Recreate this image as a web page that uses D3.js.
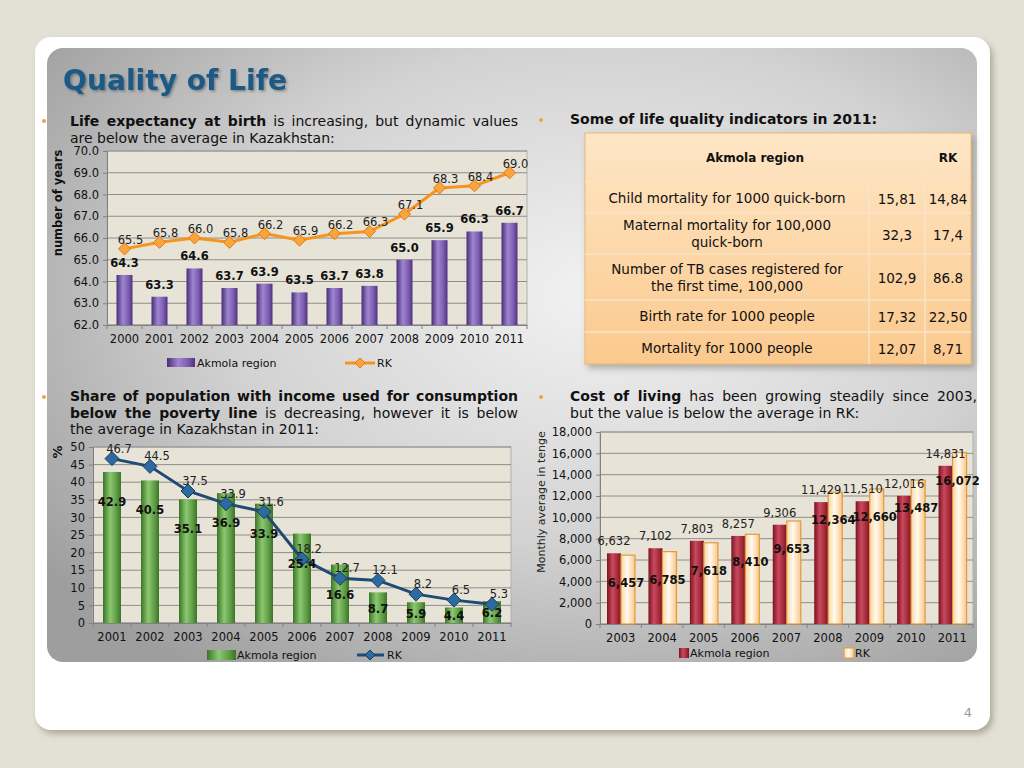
<html>
<head>
<meta charset="UTF-8">
<script src="https://d3js.org/d3.v7.min.js"></script>
<style>
  body { margin: 0; background: #e3e0d6; }
  svg text { font-family: "DejaVu Sans", Verdana, sans-serif; white-space: pre; }
</style>
</head>
<body>
<svg id="slide" width="1024" height="768"></svg>
<script>
    // ---- data ----
    var lifeYears = ["2000", "2001", "2002", "2003", "2004", "2005", "2006", "2007", "2008", "2009", "2010", "2011"];
    var lifeAkmola = [64.3, 63.3, 64.6, 63.7, 63.9, 63.5, 63.7, 63.8, 65.0, 65.9, 66.3, 66.7];
    var lifeRK = [65.5, 65.8, 66.0, 65.8, 66.2, 65.9, 66.2, 66.3, 67.1, 68.3, 68.4, 69.0];
    var lifeTicks = [62, 63, 64, 65, 66, 67, 68, 69, 70];

    var povYears = ["2001", "2002", "2003", "2004", "2005", "2006", "2007", "2008", "2009", "2010", "2011"];
    var povAkmola = [42.9, 40.5, 35.1, 36.9, 33.9, 25.4, 16.6, 8.7, 5.9, 4.4, 6.2];
    var povRK = [46.7, 44.5, 37.5, 33.9, 31.6, 18.2, 12.7, 12.1, 8.2, 6.5, 5.3];
    var povTicks = [0, 5, 10, 15, 20, 25, 30, 35, 40, 45, 50];

    var costYears = ["2003", "2004", "2005", "2006", "2007", "2008", "2009", "2010", "2011"];
    var costAkmola = [6632, 7102, 7803, 8257, 9306, 11429, 11510, 12016, 14831];
    var costRK = [6457, 6785, 7618, 8410, 9653, 12364, 12660, 13487, 16072];
    var costTicks = [0, 2000, 4000, 6000, 8000, 10000, 12000, 14000, 16000, 18000];

    var seriesNames = ["Akmola region", "RK"];

    var tableLabels = [
        ["Child mortality for 1000 quick-born"],
        ["Maternal mortality for 100,000", "quick-born"],
        ["Number of TB cases registered for", "the first time, 100,000"],
        ["Birth rate for 1000 people"],
        ["Mortality for 1000 people"]
    ];
    var tableAkmola = ["15,81", "32,3", "102,9", "17,32", "12,07"];
    var tableRK = ["14,84", "17,4", "86.8", "22,50", "8,71"];

    var svg = d3.select("#slide");
    var defs = svg.append("defs");

    function hGrad(id, stops) {
        var gr = defs.append("linearGradient").attr("id", id).attr("x1", 0).attr("x2", 1).attr("y1", 0).attr("y2", 0);
        stops.forEach(function (s) { gr.append("stop").attr("offset", s[0]).attr("stop-color", s[1]); });
    }
    hGrad("gPurple", [[0, "#4a2c78"], [0.4, "#9f86d0"], [0.75, "#7b5cb0"], [1, "#4f3080"]]);
    hGrad("gGreen", [[0, "#3a7428"], [0.4, "#8cc870"], [0.75, "#5f9e45"], [1, "#3a7429"]]);
    hGrad("gRed", [[0, "#7a1222"], [0.4, "#c94a5c"], [0.75, "#a42a3c"], [1, "#7c1423"]]);
    hGrad("gCream", [[0, "#fbd6a0"], [0.45, "#fffaf0"], [1, "#fbc687"]]);

    var tg = defs.append("linearGradient").attr("id", "gTable").attr("x1", 0).attr("x2", 0).attr("y1", 0).attr("y2", 1);
    tg.append("stop").attr("offset", 0).attr("stop-color", "#fee6c6");
    tg.append("stop").attr("offset", 1).attr("stop-color", "#fbc98d");

    var rg = defs.append("radialGradient").attr("id", "gPanel").attr("cx", "0.6").attr("cy", "0.4").attr("r", "0.75");
    rg.append("stop").attr("offset", 0).attr("stop-color", "#f2f2f2");
    rg.append("stop").attr("offset", 0.55).attr("stop-color", "#d2d2d2");
    rg.append("stop").attr("offset", 1).attr("stop-color", "#9e9e9e");

    var sh = defs.append("filter").attr("id", "shadow").attr("x", "-5%").attr("y", "-5%").attr("width", "115%").attr("height", "115%");
    sh.append("feDropShadow").attr("dx", 3).attr("dy", 4).attr("stdDeviation", 3).attr("flood-color", "#8a8474").attr("flood-opacity", 0.6);
    var ts = defs.append("filter").attr("id", "tshadow");
    ts.append("feDropShadow").attr("dx", 1.5).attr("dy", 1.5).attr("stdDeviation", 1).attr("flood-color", "#333").attr("flood-opacity", 0.45);

    // ---- slide frame ----
    svg.append("rect").attr("x", 35).attr("y", 37).attr("width", 955).attr("height", 693).attr("rx", 16)
        .attr("fill", "#fff").attr("filter", "url(#shadow)");
    svg.append("rect").attr("x", 47).attr("y", 48).attr("width", 930).attr("height", 614).attr("rx", 16)
        .attr("fill", "url(#gPanel)");

    svg.append("text").attr("x", 63).attr("y", 90).attr("font-size", 28).attr("font-weight", "bold")
        .attr("fill", "#1d5a86").attr("textLength", 224).attr("lengthAdjust", "spacingAndGlyphs")
        .attr("filter", "url(#tshadow)").text("Quality of Life");

    svg.append("text").attr("x", 968).attr("y", 717).attr("font-size", 13).attr("fill", "#9a9a9a")
        .attr("text-anchor", "middle").text("4");

    // ---- paragraph text ----
    function para(x, y, width, lines) {
        lines.forEach(function (parts, i) {
            var t = svg.append("text").attr("x", x).attr("y", y + i * 16.5).attr("font-size", 14).attr("fill", "#111");
            parts.forEach(function (p) {
                t.append("tspan").attr("font-weight", p[1] ? "bold" : "normal").text(p[0]);
            });
            if (i < lines.length - 1) {
                var len = t.node().getComputedTextLength();
                var n = parts.map(function (p) { return p[0]; }).join("").split(" ").length - 1;
                t.style("word-spacing", ((width - len) / n) + "px");
            }
        });
    }
    function bullet(x, y) {
        svg.append("circle").attr("cx", x).attr("cy", y).attr("r", 2).attr("fill", "#f0a04a");
    }

    bullet(44, 121);
    para(70, 126, 448, [
        [["Life expectancy at birth", true], [" is increasing, but dynamic values", false]],
        [["are below the average in Kazakhstan:", false]]
    ]);
    bullet(541, 120);
    para(570, 124, 400, [[["Some of life quality indicators in 2011:", true]]]);
    bullet(44, 397);
    para(70, 401, 448, [
        [["Share of population with income used for consumption", true]],
        [["below the poverty line", true], [" is decreasing, however it is below", false]],
        [["the average in Kazakhstan in 2011:", false]]
    ]);
    bullet(541, 397);
    para(570, 401, 407, [
        [["Cost of living", true], [" has been growing steadily since 2003,", false]],
        [["but the value is below the average in RK:", false]]
    ]);

    // ---- shared chart helpers ----
    function frame(x, y, top, bottom, left, right, ticks, fmt) {
        var g = svg.append("g");
        g.append("rect").attr("x", left).attr("y", top).attr("width", right - left).attr("height", bottom - top)
            .attr("fill", "#e7e3d7").attr("stroke", "#b0b0b0");
        g.selectAll(".grid").data(ticks).enter().append("line")
            .attr("x1", left).attr("x2", right)
            .attr("y1", function (d) { return y(d); }).attr("y2", function (d) { return y(d); })
            .attr("stroke", "#8e8e8e").attr("stroke-width", 1);
        var ya = g.append("g").attr("transform", "translate(" + left + ",0)")
            .call(d3.axisLeft(y).tickValues(ticks).tickFormat(fmt).tickSize(4).tickPadding(4));
        ya.selectAll("text").attr("font-size", 11.5).attr("fill", "#111");
        ya.selectAll("line,path").attr("stroke", "#808080");
        var xa = g.append("g").attr("transform", "translate(0," + bottom + ")")
            .call(d3.axisBottom(x).tickSize(0).tickPadding(10));
        xa.selectAll("text").attr("font-size", 11.5).attr("fill", "#111");
        xa.select("path").attr("stroke", "#808080");
        var edges = x.domain().map(function (d) { return x(d); }).concat([x.range()[1]]);
        g.selectAll(".xt").data(edges).enter().append("line")
            .attr("x1", function (d) { return d; }).attr("x2", function (d) { return d; })
            .attr("y1", bottom).attr("y2", bottom + 4).attr("stroke", "#808080");
        return g;
    }
    function diamond(g, cx, cy, r, fill, stroke) {
        g.append("path").attr("d", "M" + cx + "," + (cy - r) + "L" + (cx + r) + "," + cy + "L" + cx + "," + (cy + r) + "L" + (cx - r) + "," + cy + "Z")
            .attr("fill", fill).attr("stroke", stroke).attr("stroke-width", 1);
    }

    // ---- chart 1: life expectancy ----
    (function () {
        var x = d3.scaleBand().domain(lifeYears).range([107, 527]);
        var y = d3.scaleLinear().domain([62, 70]).range([325, 151]);
        var g = frame(x, y, 151, 325, 107, 527, lifeTicks, d3.format(".1f"));
        var bw = 16, off = (x.bandwidth() - bw) / 2;
        g.selectAll(".bar").data(lifeAkmola).enter().append("rect")
            .attr("x", function (d, i) { return x(lifeYears[i]) + off; })
            .attr("y", function (d) { return y(d); })
            .attr("width", bw).attr("height", function (d) { return 325 - y(d); })
            .attr("fill", "url(#gPurple)");
        g.selectAll(".bl").data(lifeAkmola).enter().append("text")
            .attr("x", function (d, i) { return x(lifeYears[i]) + x.bandwidth() / 2; })
            .attr("y", function (d) { return y(d) - 8; })
            .attr("text-anchor", "middle").attr("font-size", 11.5).attr("font-weight", "bold").attr("fill", "#111")
            .text(function (d) { return d.toFixed(1); });
        var line = d3.line().x(function (d, i) { return x(lifeYears[i]) + x.bandwidth() / 2; }).y(function (d) { return y(d); });
        g.append("path").datum(lifeRK).attr("d", line).attr("fill", "none").attr("stroke", "#f7941d").attr("stroke-width", 3);
        lifeRK.forEach(function (d, i) {
            diamond(g, x(lifeYears[i]) + x.bandwidth() / 2, y(d), 6, "#f9a43c", "#e07a10");
        });
        g.selectAll(".ll").data(lifeRK).enter().append("text")
            .attr("x", function (d, i) { return x(lifeYears[i]) + x.bandwidth() / 2 + 6; })
            .attr("y", function (d) { return y(d) - 5; })
            .attr("text-anchor", "middle").attr("font-size", 11.5).attr("fill", "#222")
            .text(function (d) { return d.toFixed(1); });
        svg.append("text").attr("transform", "translate(62,203) rotate(-90)").attr("text-anchor", "middle")
            .attr("font-size", 11.5).attr("font-weight", "bold").attr("fill", "#111").text("number of years");
        // legend
        svg.append("rect").attr("x", 167).attr("y", 358).attr("width", 28).attr("height", 9).attr("fill", "url(#gPurple)");
        svg.append("text").attr("x", 197).attr("y", 367).attr("font-size", 11).attr("fill", "#111").text(seriesNames[0]);
        svg.append("line").attr("x1", 345).attr("x2", 375).attr("y1", 363).attr("y2", 363).attr("stroke", "#f7941d").attr("stroke-width", 3);
        diamond(svg, 360, 363, 5, "#f9a43c", "#e07a10");
        svg.append("text").attr("x", 377).attr("y", 367).attr("font-size", 11).attr("fill", "#111").text(seriesNames[1]);
    })();

    // ---- chart 2: poverty line share ----
    (function () {
        var x = d3.scaleBand().domain(povYears).range([93, 511]);
        var y = d3.scaleLinear().domain([0, 50]).range([623, 447]);
        var g = frame(x, y, 447, 623, 93, 511, povTicks, d3.format("d"));
        var bw = 18, off = (x.bandwidth() - bw) / 2;
        g.selectAll(".bar").data(povAkmola).enter().append("rect")
            .attr("x", function (d, i) { return x(povYears[i]) + off; })
            .attr("y", function (d) { return y(d); })
            .attr("width", bw).attr("height", function (d) { return 623 - y(d); })
            .attr("fill", "url(#gGreen)");
        var line = d3.line().x(function (d, i) { return x(povYears[i]) + x.bandwidth() / 2; }).y(function (d) { return y(d); });
        g.append("path").datum(povRK).attr("d", line).attr("fill", "none").attr("stroke", "#1f4a72").attr("stroke-width", 3);
        povRK.forEach(function (d, i) {
            diamond(g, x(povYears[i]) + x.bandwidth() / 2, y(d), 7, "#2c6a9f", "#173b5e");
        });
        g.selectAll(".bl").data(povAkmola).enter().append("text")
            .attr("x", function (d, i) { return x(povYears[i]) + x.bandwidth() / 2; })
            .attr("y", function (d) { var t = y(d); return Math.min(t + 34, (t + 623) / 2 + 5); })
            .attr("text-anchor", "middle").attr("font-size", 11.5).attr("font-weight", "bold").attr("fill", "#111")
            .text(function (d) { return d.toFixed(1); });
        g.selectAll(".ll").data(povRK).enter().append("text")
            .attr("x", function (d, i) { return x(povYears[i]) + x.bandwidth() / 2 + 7; })
            .attr("y", function (d) { return y(d) - 6; })
            .attr("text-anchor", "middle").attr("font-size", 11.5).attr("fill", "#222")
            .text(function (d) { return d.toFixed(1); });
        svg.append("text").attr("transform", "translate(62,452) rotate(-90)").attr("text-anchor", "middle")
            .attr("font-size", 13).attr("font-weight", "bold").attr("fill", "#111").text("%");
        svg.append("rect").attr("x", 207).attr("y", 650).attr("width", 29).attr("height", 10).attr("fill", "url(#gGreen)");
        svg.append("text").attr("x", 237).attr("y", 659).attr("font-size", 11).attr("fill", "#111").text(seriesNames[0]);
        svg.append("line").attr("x1", 357).attr("x2", 384).attr("y1", 655).attr("y2", 655).attr("stroke", "#1f4a72").attr("stroke-width", 3);
        diamond(svg, 370, 655, 5, "#2c6a9f", "#173b5e");
        svg.append("text").attr("x", 387).attr("y", 659).attr("font-size", 11).attr("fill", "#111").text(seriesNames[1]);
    })();

    // ---- chart 3: cost of living ----
    (function () {
        var x = d3.scaleBand().domain(costYears).range([600, 973]);
        var y = d3.scaleLinear().domain([0, 18000]).range([624, 432]);
        var g = frame(x, y, 432, 624, 600, 973, costTicks, d3.format(","));
        var bw = 14, off = 7;
        g.selectAll(".ba").data(costAkmola).enter().append("rect")
            .attr("x", function (d, i) { return x(costYears[i]) + off; })
            .attr("y", function (d) { return y(d); })
            .attr("width", bw).attr("height", function (d) { return 624 - y(d); })
            .attr("fill", "url(#gRed)");
        g.selectAll(".br").data(costRK).enter().append("rect")
            .attr("x", function (d, i) { return x(costYears[i]) + off + bw; })
            .attr("y", function (d) { return y(d); })
            .attr("width", bw).attr("height", function (d) { return 624 - y(d); })
            .attr("fill", "url(#gCream)").attr("stroke", "#e49a3c").attr("stroke-width", 1.2);
        g.selectAll(".la").data(costAkmola).enter().append("text")
            .attr("x", function (d, i) { return x(costYears[i]) + off + bw / 2; })
            .attr("y", function (d) { return y(d) - 8; })
            .attr("text-anchor", "middle").attr("font-size", 11.5).attr("fill", "#222")
            .text(function (d) { return d3.format(",")(d); });
        g.selectAll(".lr").data(costRK).enter().append("text")
            .attr("x", function (d, i) { return x(costYears[i]) + off + bw * 1.5 - 2; })
            .attr("y", function (d) { return y(d) + 32; })
            .attr("text-anchor", "middle").attr("font-size", 11.5).attr("font-weight", "bold").attr("fill", "#111")
            .text(function (d) { return d3.format(",")(d); });
        svg.append("text").attr("transform", "translate(545,502) rotate(-90)").attr("text-anchor", "middle")
            .attr("font-size", 11).attr("fill", "#222").text("Monthly average in tenge");
        svg.append("rect").attr("x", 679).attr("y", 648).attr("width", 10).attr("height", 10).attr("fill", "url(#gRed)");
        svg.append("text").attr("x", 690).attr("y", 657).attr("font-size", 11).attr("fill", "#111").text(seriesNames[0]);
        svg.append("rect").attr("x", 844).attr("y", 648).attr("width", 10).attr("height", 10).attr("fill", "url(#gCream)")
            .attr("stroke", "#e49a3c");
        svg.append("text").attr("x", 855).attr("y", 657).attr("font-size", 11).attr("fill", "#111").text(seriesNames[1]);
    })();

    // ---- table of indicators ----
    (function () {
        var x0 = 585, x1 = 869, x2 = 925, x3 = 971;
        var rowEdges = [133, 182, 213, 254, 300, 332, 364];
        var g = svg.append("g");
        g.append("rect").attr("x", x0).attr("y", rowEdges[0]).attr("width", x3 - x0).attr("height", rowEdges[6] - rowEdges[0])
            .attr("fill", "url(#gTable)").attr("stroke", "#e9b777").attr("filter", "url(#shadow)");
        g.selectAll(".hl").data(rowEdges.slice(1, 6)).enter().append("line")
            .attr("x1", x0).attr("x2", x3).attr("y1", function (d) { return d; }).attr("y2", function (d) { return d; })
            .attr("stroke", "#f8e4c8").attr("stroke-width", 1.5);
        g.append("line").attr("x1", x2).attr("x2", x2).attr("y1", rowEdges[0]).attr("y2", rowEdges[6]).attr("stroke", "#f8e4c8").attr("stroke-width", 1.5);
        g.append("line").attr("x1", x1).attr("x2", x1).attr("y1", rowEdges[1]).attr("y2", rowEdges[6]).attr("stroke", "#f8e4c8").attr("stroke-width", 1.5);
        var hy = (rowEdges[0] + rowEdges[1]) / 2 + 4;
        g.append("text").attr("x", (x0 + x2) / 2).attr("y", hy).attr("text-anchor", "middle")
            .attr("font-size", 12).attr("font-weight", "bold").attr("fill", "#111").text(seriesNames[0]);
        g.append("text").attr("x", (x2 + x3) / 2).attr("y", hy).attr("text-anchor", "middle")
            .attr("font-size", 12).attr("font-weight", "bold").attr("fill", "#111").text(seriesNames[1]);
        tableLabels.forEach(function (lines, i) {
            var cy = (rowEdges[i + 1] + rowEdges[i + 2]) / 2;
            lines.forEach(function (s, j) {
                g.append("text").attr("x", (x0 + x1) / 2).attr("y", cy + 5 + (j - (lines.length - 1) / 2) * 17)
                    .attr("text-anchor", "middle").attr("font-size", 13.5).attr("fill", "#111").text(s);
            });
            g.append("text").attr("x", (x1 + x2) / 2).attr("y", cy + 6).attr("text-anchor", "middle")
                .attr("font-size", 13.5).attr("fill", "#111").text(tableAkmola[i]);
            g.append("text").attr("x", (x2 + x3) / 2).attr("y", cy + 6).attr("text-anchor", "middle")
                .attr("font-size", 13.5).attr("fill", "#111").text(tableRK[i]);
        });
    })();
</script>
</body>
</html>
